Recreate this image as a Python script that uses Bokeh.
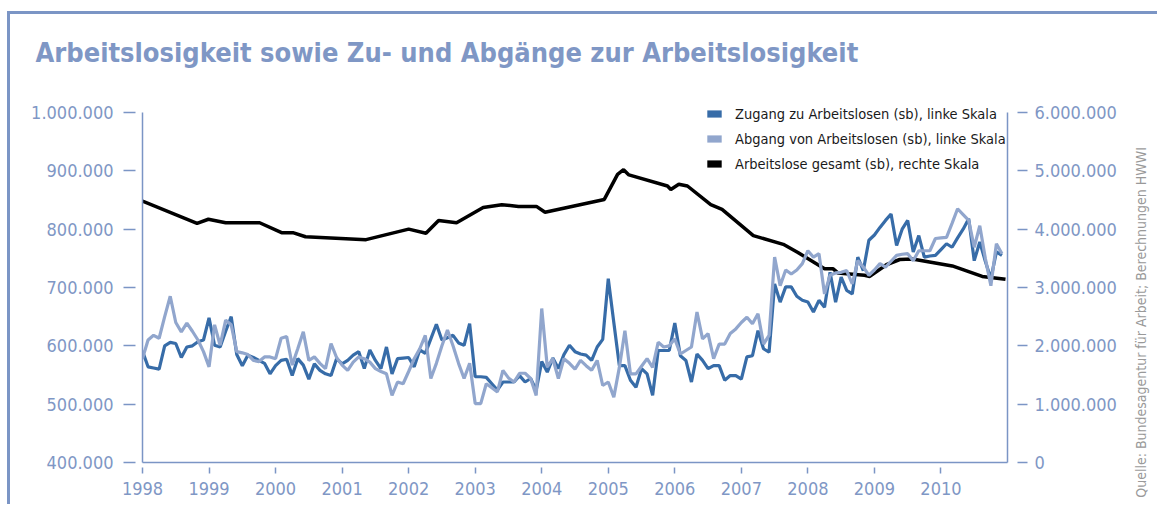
import math
from bokeh.plotting import figure
from bokeh.models import (Range1d, LinearAxis, FixedTicker, CustomJSTickFormatter,
                          Legend, LegendItem)
from bokeh.embed import file_html
from bokeh.resources import INLINE

# ---------------- data ----------------
START_YEAR = 1998
years = list(range(1998, 2011))

# monthly values Jan 1998 .. Dec 2010 (thousands), left scale
zugang_k = [
    591, 564, 562, 560, 600, 606, 604, 580, 598, 600, 607, 610,
    648, 601, 598, 625, 650, 585, 566, 584, 580, 575, 570, 552,
    566, 575, 577, 549, 578, 567, 543, 569, 558, 552, 549, 578,
    569, 575, 584, 590, 561, 593, 575, 561, 598, 552, 578, 579,
    580, 564, 593, 587, 612, 637, 610, 614, 618, 605, 601, 638,
    547, 547, 546, 535, 524, 538, 538, 538, 549, 538, 544, 524,
    573, 555, 579, 561, 585, 601, 590, 586, 584, 575, 598, 611,
    715, 640, 566, 566, 541, 529, 561, 552, 515, 592, 592, 592,
    639, 583, 575, 538, 586, 575, 561, 566, 566, 541, 549, 549,
    543, 581, 583, 626, 595, 589, 706, 675, 701, 701, 685, 678,
    675, 658, 678, 666, 726, 675, 718, 695, 689, 752, 729, 781,
    790, 803, 815, 826, 772, 800, 815, 761, 789, 752, 754, 755,
    765, 775, 769, 785, 800, 818, 746, 778, 745, 715, 761, 755,
]
abgang_k = [
    578, 610, 618, 613, 650, 685, 640, 624, 639, 625, 610, 590,
    564, 636, 601, 644, 636, 590, 588, 585, 575, 573, 581, 581,
    578, 613, 616, 567, 595, 624, 575, 581, 570, 561, 604, 580,
    567, 558, 572, 581, 578, 572, 561, 556, 552, 515, 538, 535,
    556, 578, 595, 618, 544, 570, 600, 627, 600, 570, 544, 570,
    501, 501, 535, 528, 521, 558, 545, 538, 553, 553, 544, 515,
    664, 564, 578, 544, 578, 570, 560, 575, 566, 558, 575, 532,
    538, 512, 563, 626, 552, 552, 565, 578, 563, 606, 598, 600,
    612, 586, 592, 598, 658, 612, 621, 578, 603, 603, 621, 629,
    640, 649, 638, 655, 603, 618, 752, 703, 730, 723, 730, 741,
    763, 752, 758, 689, 721, 725, 726, 729, 706, 746, 735, 721,
    730, 741, 735, 745, 755, 757, 758, 746, 763, 763, 763, 784,
    785, 786, 810, 835, 825, 815, 769, 806, 750, 703, 775, 758,
]

# total unemployed (millions), right scale, read at visible vertices
bestand_t = [1998.00, 1998.82, 1998.99, 1999.25, 1999.76, 2000.09, 2000.26, 2000.45,
             2001.36, 2002.00, 2002.26, 2002.45, 2002.72, 2003.12, 2003.40, 2003.65,
             2003.92, 2004.05, 2004.94, 2005.14, 2005.23, 2005.31, 2005.89, 2005.94,
             2006.06, 2006.19, 2006.54, 2006.71, 2007.18, 2007.63, 2007.85, 2008.25,
             2008.38, 2008.45, 2008.85, 2008.93, 2009.18, 2009.38, 2009.57, 2010.17,
             2010.62, 2010.97]
bestand_m = [4.48, 4.10, 4.17, 4.11, 4.11, 3.94, 3.94, 3.87,
             3.82, 4.00, 3.93, 4.15, 4.11, 4.37, 4.42, 4.39,
             4.39, 4.29, 4.51, 4.94, 5.02, 4.93, 4.74, 4.68,
             4.77, 4.74, 4.42, 4.34, 3.89, 3.74, 3.60, 3.32,
             3.32, 3.25, 3.21, 3.19, 3.39, 3.48, 3.49, 3.37,
             3.19, 3.14]

left_ticks = [400000, 500000, 600000, 700000, 800000, 900000, 1000000]
right_ticks = [0, 1000000, 2000000, 3000000, 4000000, 5000000, 6000000]

labels = ["Zugang zu Arbeitslosen (sb), linke Skala",
          "Abgang von Arbeitslosen (sb), linke Skala",
          "Arbeitslose gesamt (sb), rechte Skala"]
title_text = "Arbeitslosigkeit sowie Zu- und Abgänge zur Arbeitslosigkeit"
source_text = "Quelle: Bundesagentur für Arbeit; Berechnungen HWWI"

# ---------------- style ----------------
FONT = "DejaVu Sans Condensed, Liberation Sans Narrow, sans-serif"
AXIS_C = "#7b95c5"
TEXT_C = "#7f97c5"
DARK = "#376ca8"
LIGHT = "#91a6cd"
SRC_C = "#999999"

# frame geometry: ticks 400k..1M span 350 px, frame 364 px tall (room for legend)
AXIS_PX = 350
FRAME_H = 364
left_lo, left_hi = 400000, 1000000
right_lo, right_hi = 0, 6000000
left_top = left_lo + (left_hi - left_lo) * FRAME_H / AXIS_PX
right_top = right_lo + (right_hi - right_lo) * FRAME_H / AXIS_PX
# anchor for the rotated source note (120 px below the top tick)
SRC_ANCHOR = left_hi - (left_hi - left_lo) * 120 / AXIS_PX

t_month = [START_YEAR + i / 12 for i in range(len(zugang_k))]
zugang = [v * 1000 for v in zugang_k]
abgang = [v * 1000 for v in abgang_k]
bestand = [v * 1e6 for v in bestand_m]

p = figure(width=1150, height=493,
           x_range=Range1d(1998, 2011), y_range=Range1d(left_lo, left_top),
           output_backend="svg", toolbar_location=None,
           min_border_left=132, min_border_right=148,
           min_border_top=84, min_border_bottom=45)
p.styles = {"margin-left": "7px", "margin-top": "11px",
            "border-left": f"3px solid {AXIS_C}", "border-top": f"3px solid {AXIS_C}"}
p.outline_line_color = None
p.grid.visible = False
p.background_fill_color = "white"
p.border_fill_color = "white"

p.extra_y_ranges = {"right": Range1d(right_lo, right_top)}

de_fmt = CustomJSTickFormatter(code="""
    return Math.round(tick).toString().replace(/\\B(?=(\\d{3})+(?!\\d))/g, '.');
""")

# left axis
ya = p.yaxis[0]
ya.ticker = FixedTicker(ticks=left_ticks)
ya.bounds = (left_lo, left_hi)
ya.formatter = de_fmt
ya.axis_line_color = AXIS_C
ya.axis_line_width = 1.5
ya.major_tick_line_color = AXIS_C
ya.major_tick_line_width = 1.5
ya.major_tick_in = -7
ya.major_tick_out = 19
ya.minor_tick_line_color = None
ya.major_label_standoff = 10
ya.major_label_text_font = FONT
ya.major_label_text_font_size = "18px"
ya.major_label_text_color = TEXT_C

# bottom axis
xa = p.xaxis[0]
xa.ticker = FixedTicker(ticks=years)
xa.formatter = CustomJSTickFormatter(code="return tick.toFixed(0);")
xa.axis_line_color = AXIS_C
xa.axis_line_width = 1.5
xa.major_tick_line_color = AXIS_C
xa.major_tick_line_width = 1.5
xa.major_tick_in = -5
xa.major_tick_out = 11
xa.minor_tick_line_color = None
xa.major_label_standoff = 8
xa.major_label_text_font = FONT
xa.major_label_text_font_size = "18px"
xa.major_label_text_color = TEXT_C

# right axis
ra = LinearAxis(y_range_name="right", ticker=FixedTicker(ticks=right_ticks), formatter=de_fmt)
ra.bounds = (right_lo, right_hi)
ra.axis_line_color = AXIS_C
ra.axis_line_width = 1.5
ra.major_tick_line_color = AXIS_C
ra.major_tick_line_width = 1.5
ra.major_tick_in = -10
ra.major_tick_out = 20
ra.minor_tick_line_color = None
ra.major_label_standoff = 7
ra.major_label_text_font = FONT
ra.major_label_text_font_size = "18px"
ra.major_label_text_color = TEXT_C
p.add_layout(ra, "right")

# source note as rotated label of a bare axis (reads bottom-to-top)
sa = LinearAxis(ticker=FixedTicker(ticks=[SRC_ANCHOR]),
                formatter=CustomJSTickFormatter(code="return %r;" % source_text))
sa.axis_line_color = None
sa.major_tick_line_color = None
sa.minor_tick_line_color = None
sa.major_tick_in = 0
sa.major_tick_out = 0
sa.major_label_standoff = 22
sa.major_label_orientation = math.pi / 2
sa.major_label_text_font = FONT
sa.major_label_text_font_size = "14px"
sa.major_label_text_color = SRC_C
p.add_layout(sa, "right")

# title (trailing blank line lifts it above the frame)
p.title.text = title_text + "\n"
p.title.text_font = FONT
p.title.text_font_size = "27px"
p.title.text_font_style = "bold"
p.title.text_color = TEXT_C
p.title.text_line_height = 1.0
p.title.align = "left"
p.title.vertical_align = "bottom"
p.title.offset = -107
p.title.standoff = 0

# lines
p.line(bestand_t, bestand, y_range_name="right", line_color="black", line_width=3.5)
p.line(t_month, zugang, line_color=DARK, line_width=3.2)
p.line(t_month, abgang, line_color=LIGHT, line_width=3.2)

# legend swatches: zero-area quads on the series data, visible only in the legend
sw = []
for c, ys in ((DARK, zugang), (LIGHT, abgang)):
    sw.append(p.quad(left=t_month, right=t_month, top=ys, bottom=ys,
                     fill_color=c, line_color=None))
sw.append(p.quad(left=bestand_t, right=bestand_t, top=bestand, bottom=bestand,
                 y_range_name="right", fill_color="black", line_color=None))
legend = Legend(items=[LegendItem(label=l, renderers=[r]) for l, r in zip(labels, sw)],
                location=(563, 286))
legend.padding = 0
legend.margin = 0
legend.spacing = 0
legend.label_height = 25
legend.glyph_height = 9
legend.glyph_width = 18
legend.label_standoff = 12
legend.label_text_font = FONT
legend.label_text_font_size = "14.5px"
legend.label_text_color = "#1a1a1a"
legend.background_fill_alpha = 0
legend.border_line_color = None
p.add_layout(legend)

open("out.html", "w").write(file_html(p, INLINE))
